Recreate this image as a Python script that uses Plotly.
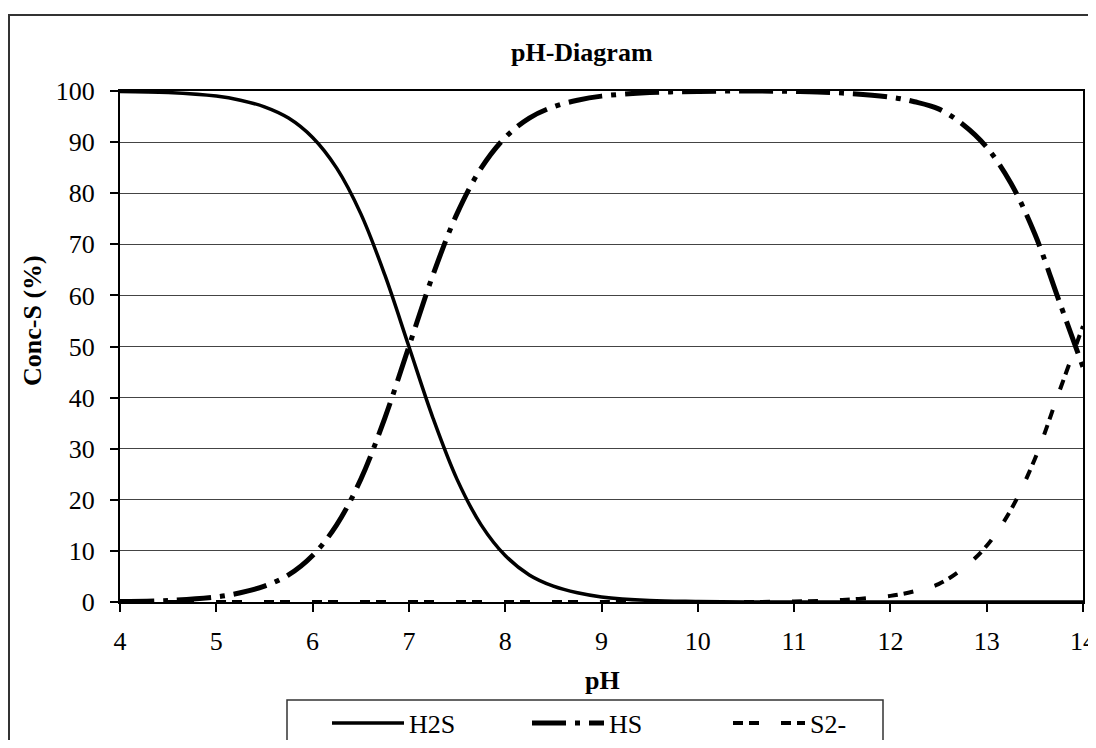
import plotly.graph_objects as go

# ---- data ----
pH = [4, 4.5, 5, 5.25, 5.5, 5.75, 6, 6.25, 6.5, 6.75, 7, 7.25, 7.5, 7.75, 8,
      8.25, 8.5, 8.75, 9, 9.5, 10, 10.5, 11, 11.5, 12, 12.25, 12.5, 12.75, 13,
      13.25, 13.5, 13.75, 14]
h2s = [99.9, 99.7, 99.0, 98.2, 96.9, 94.7, 90.9, 84.9, 76.0, 64.0, 50.0, 36.0,
       24.0, 15.1, 9.1, 5.3, 3.1, 1.8, 1.0, 0.3, 0.1, 0, 0, 0, 0, 0, 0, 0, 0,
       0, 0, 0, 0]
hs = [0.1, 0.3, 1.0, 1.8, 3.1, 5.3, 9.1, 15.1, 24.0, 36.0, 50.0, 64.0, 76.0,
      84.9, 90.9, 94.7, 96.9, 98.2, 99.0, 99.7, 99.9, 100, 99.9, 99.6, 98.8,
      97.9, 96.5, 93.5, 89.0, 82.0, 72.0, 59.0, 46.0]
s2 = [0, 0, 0, 0, 0, 0, 0, 0, 0, 0, 0, 0, 0, 0, 0, 0, 0, 0, 0, 0, 0,
      0, 0.1, 0.4, 1.2, 2.1, 3.5, 6.5, 11.0, 18.0, 28.0, 41.0, 54.0]
series_names = ["H2S", "HS", "S2-"]
x_ticks = [4, 5, 6, 7, 8, 9, 10, 11, 12, 13, 14]
y_ticks = [0, 10, 20, 30, 40, 50, 60, 70, 80, 90, 100]

# page has an 8px body margin; figure coords = reference coords - 8
OFF = 8
W, H = 1096 - 2 * OFF, 748 - 2 * OFF
L, R, T, B = 120 - OFF, 1083 - OFF, 91 - OFF, 602 - OFF
pw, ph = R - L, B - T


def px(xr):
    return (xr - OFF - L) / pw


def py(yr):
    return (B - (yr - OFF)) / ph


FONT = "Liberation Serif, Times New Roman, serif"
FS = 26

fig = go.Figure()
fig.add_trace(go.Scatter(x=pH, y=h2s, name=series_names[0], mode="lines",
                         line=dict(color="black", width=3.5, shape="spline", smoothing=1.0),
                         legend="legend"))
fig.add_trace(go.Scatter(x=pH, y=hs, name=series_names[1], mode="lines",
                         line=dict(color="black", width=5, dash="34px,9px,5px,9px",
                                   shape="spline", smoothing=1.0),
                         legend="legend2"))
fig.add_trace(go.Scatter(x=pH, y=s2, name=series_names[2], mode="lines",
                         line=dict(color="black", width=4, dash="10px,6px,10px,22px",
                                   shape="spline", smoothing=1.0),
                         legend="legend3"))

leg_common = dict(orientation="h", xanchor="left", yanchor="middle",
                  bgcolor="rgba(0,0,0,0)", borderwidth=0, itemwidth=72,
                  font=dict(family=FONT, size=FS, color="black"))
ly = py(723)
fig.update_layout(
    legend=dict(x=px(327), y=ly, **leg_common),
    legend2=dict(x=px(527), y=ly, **leg_common),
    legend3=dict(x=px(728), y=ly, **leg_common),
)

ann_common = dict(xref="paper", yref="paper", showarrow=False,
                  xanchor="center", yanchor="middle",
                  font=dict(family=FONT, size=FS, color="black"))

fig.update_layout(
    width=W, height=H,
    margin=dict(l=L, r=W - R, t=T, b=H - B, autoexpand=False),
    paper_bgcolor="white", plot_bgcolor="white",
    showlegend=True,
    xaxis=dict(range=[4, 14], tickvals=x_ticks, ticks="outside", ticklen=8,
               tickwidth=1.5, tickcolor="black", showgrid=False, zeroline=False,
               showline=True, linecolor="black", linewidth=2, mirror=True,
               ticklabelstandoff=7, ticklabeloverflow="allow", automargin=False,
               tickfont=dict(family=FONT, size=FS, color="black")),
    yaxis=dict(range=[0, 100], tickvals=y_ticks, ticks="outside", ticklen=8,
               tickwidth=1.5, tickcolor="black", showgrid=True,
               gridcolor="#444444", gridwidth=1.2, zeroline=False,
               showline=True, linecolor="black", linewidth=2, mirror=True,
               ticklabelstandoff=10, automargin=False,
               tickfont=dict(family=FONT, size=FS, color="black")),
    annotations=[
        dict(text="<b>pH-Diagram</b>", x=px(582), y=py(53), **ann_common),
        dict(text="<b>pH</b>", x=px(602), y=py(680), **ann_common),
        dict(text="<b>Conc-S (%)</b>", x=px(32), y=py(321), textangle=-90, **ann_common),
    ],
    shapes=[
        dict(type="rect", xref="paper", yref="paper", x0=px(OFF + 1), x1=px(1120),
             y0=py(780), y1=py(15), line=dict(color="#333333", width=2),
             fillcolor="rgba(0,0,0,0)", layer="below"),
        dict(type="rect", xref="paper", yref="paper", x0=px(287), x1=px(883),
             y0=py(780), y1=py(700), line=dict(color="#333333", width=1.5),
             fillcolor="rgba(0,0,0,0)", layer="below"),
    ],
)

fig.write_html("out.html")
